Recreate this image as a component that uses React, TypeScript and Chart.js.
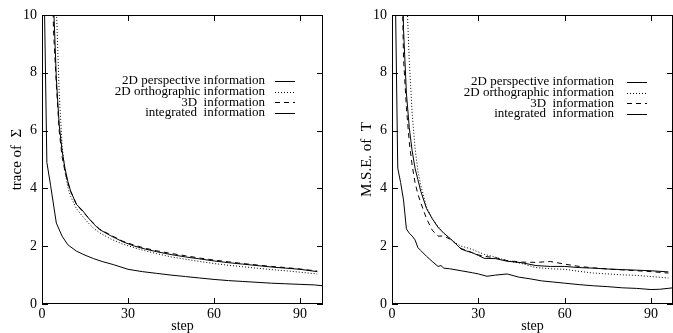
import React, { useEffect, useRef } from "react";
import { Chart, registerables } from "chart.js";

Chart.register(...registerables);

const FONT = "'Liberation Serif', 'Times New Roman', serif";

// ---- shared axes / labels ----
const yTicks = [0, 2, 4, 6, 8, 10];
const xTicks = [0, 30, 60, 90];
const legendLabels = [
  "2D perspective information",
  "2D orthographic information",
  "3D  information",
  "integrated  information",
];

// ---- left panel: trace of Sigma ----
const traceUpperSteps = [3, 4, 5, 6, 7, 8, 9, 10, 12, 14, 16, 18, 20, 24, 28, 32, 36, 40, 45, 50, 55, 60, 65, 70, 75, 80, 85, 90, 96];
const tracePerspective = [16, 10.5, 7.8, 6.2, 5.3, 4.7, 4.25, 3.9, 3.45, 3.25, 3.0, 2.77, 2.58, 2.36, 2.16, 2.01, 1.9, 1.81, 1.71, 1.63, 1.56, 1.49, 1.43, 1.38, 1.33, 1.28, 1.24, 1.2, 1.12];
const traceOrthographic = [20, 14, 10.3, 7.3, 5.5, 4.6, 4.05, 3.72, 3.3, 3.05, 2.82, 2.62, 2.47, 2.25, 2.08, 1.95, 1.84, 1.74, 1.63, 1.55, 1.47, 1.4, 1.34, 1.29, 1.24, 1.19, 1.15, 1.1, 1.04];
const trace3D = [16, 9.5, 7.6, 6.0, 5.1, 4.6, 4.2, 3.9, 3.45, 3.22, 3.0, 2.79, 2.6, 2.38, 2.18, 2.04, 1.93, 1.84, 1.75, 1.67, 1.59, 1.52, 1.46, 1.4, 1.35, 1.3, 1.26, 1.21, 1.14];
const traceIntegratedSteps = [0.6, 1.7, 3, 5, 7, 9, 12, 15, 18, 21, 25, 30, 35, 40, 45, 50, 55, 60, 65, 70, 75, 80, 85, 90, 95, 98];
const traceIntegrated = [12, 4.9, 4.1, 2.8, 2.35, 2.05, 1.83, 1.69, 1.57, 1.47, 1.36, 1.2, 1.12, 1.06, 1.0, 0.95, 0.9, 0.85, 0.81, 0.78, 0.75, 0.72, 0.7, 0.68, 0.66, 0.63];

// ---- right panel: M.S.E. of T ----
const mseUpperSteps = [3, 4, 5, 6, 7, 8, 9, 10, 12, 14, 16, 18, 20, 22, 24, 26, 28, 30, 32, 36, 40, 45, 50, 55, 60, 65, 70, 75, 80, 85, 90, 96];
const msePerspective = [16, 9.5, 7.3, 6.1, 5.3, 4.7, 4.3, 3.9, 3.3, 2.95, 2.65, 2.45, 2.28, 2.1, 1.9, 1.83, 1.77, 1.68, 1.58, 1.57, 1.48, 1.43, 1.33, 1.3, 1.3, 1.26, 1.24, 1.21, 1.19, 1.17, 1.15, 1.11];
const mseOrthographic = [30, 18, 11, 8.4, 6.6, 5.4, 4.6, 4.1, 3.35, 2.95, 2.68, 2.45, 2.28, 2.12, 2.0, 1.95, 1.88, 1.8, 1.72, 1.62, 1.5, 1.4, 1.26, 1.22, 1.2, 1.13, 1.07, 1.04, 1.01, 0.99, 0.95, 0.9];
const mse3D = [14, 8.5, 6.8, 5.6, 4.8, 4.2, 3.8, 3.5, 2.95, 2.55, 2.35, 2.35, 2.25, 2.1, 1.92, 1.85, 1.77, 1.7, 1.65, 1.6, 1.5, 1.45, 1.44, 1.47, 1.38, 1.3, 1.25, 1.21, 1.18, 1.15, 1.12, 1.07];
const mseIntegratedSteps = [1, 2, 3, 4, 5, 6, 7, 8, 9, 10, 12, 14, 16, 17, 18, 20, 24, 28, 30, 33, 36, 40, 44, 48, 52, 56, 60, 65, 70, 75, 80, 85, 90, 93, 97.6];
const mseIntegrated = [12, 4.7, 4.2, 3.6, 2.6, 2.45, 2.35, 2.22, 1.95, 1.85, 1.65, 1.47, 1.3, 1.33, 1.24, 1.22, 1.15, 1.08, 1.04, 0.96, 1.0, 1.04, 0.93, 0.87, 0.8, 0.76, 0.72, 0.67, 0.63, 0.6, 0.56, 0.54, 0.5, 0.51, 0.56];

type Series = { label: string; steps: number[]; values: number[]; dash: number[] };

const DASHES = { solid: [] as number[], dotted: [1, 2], dashed: [5, 4] };

type PanelParams = {
  series: Series[];
  xMax: number;
  yTitle: string;
  padRight: number;
  legend: { textRight: number; x1: number; x2: number; top: number; gap: number };
};

function buildConfig(p: PanelParams): any {
  const framePlugin = {
    id: "frameTicks",
    afterDraw(chart: any) {
      const { ctx, chartArea: a, scales } = chart;
      ctx.save();
      ctx.strokeStyle = "#000";
      ctx.lineWidth = 1;
      ctx.setLineDash([]);
      ctx.strokeRect(a.left + 0.5, a.top + 0.5, a.right - a.left - 1, a.bottom - a.top - 1);
      const T = 6;
      ctx.beginPath();
      for (const v of yTicks) {
        const y = Math.round(scales.y.getPixelForValue(v)) + 0.5;
        ctx.moveTo(a.left, y);
        ctx.lineTo(a.left + T, y);
        ctx.moveTo(a.right, y);
        ctx.lineTo(a.right - T, y);
      }
      for (const v of xTicks) {
        const x = Math.round(scales.x.getPixelForValue(v)) + 0.5;
        ctx.moveTo(x, a.bottom);
        ctx.lineTo(x, a.bottom - T);
        ctx.moveTo(x, a.top);
        ctx.lineTo(x, a.top + T);
      }
      ctx.stroke();
      // legend
      const L = p.legend;
      ctx.font = `13px ${FONT}`;
      ctx.fillStyle = "#000";
      ctx.textAlign = "right";
      ctx.textBaseline = "middle";
      chart.data.datasets.forEach((ds: any, i: number) => {
        const y = L.top + i * L.gap;
        ctx.fillText(ds.label, L.textRight, y);
        ctx.setLineDash(ds.borderDash || []);
        ctx.beginPath();
        ctx.moveTo(L.x1, Math.round(y) + 0.5);
        ctx.lineTo(L.x2, Math.round(y) + 0.5);
        ctx.stroke();
      });
      ctx.restore();
    },
  };

  return {
    type: "line",
    data: {
      datasets: p.series.map((s) => ({
        label: s.label,
        data: s.steps.map((x, i) => ({ x, y: s.values[i] })),
        borderColor: "#000",
        borderWidth: 1,
        borderDash: s.dash,
        pointRadius: 0,
        tension: 0,
        fill: false,
      })),
    },
    options: {
      responsive: false,
      animation: false,
      events: [],
      layout: { padding: { left: 0, top: 15, right: p.padRight, bottom: 0 } },
      plugins: { legend: { display: false }, tooltip: { enabled: false } },
      scales: {
        x: {
          type: "linear",
          min: 0,
          max: p.xMax,
          afterFit: (s: any) => {
            s.height = 29;
          },
          afterBuildTicks: (s: any) => {
            s.ticks = xTicks.map((v) => ({ value: v }));
          },
          grid: { display: false, drawTicks: false },
          border: { display: false },
          ticks: { color: "#000", font: { family: FONT, size: 14 }, padding: 2, maxRotation: 0, autoSkip: false },
          title: { display: true, text: "step", color: "#000", font: { family: FONT, size: 14, lineHeight: 1 }, padding: 0 },
        },
        y: {
          type: "linear",
          min: 0,
          max: 10,
          afterFit: (s: any) => {
            s.width = 42;
          },
          afterBuildTicks: (s: any) => {
            s.ticks = yTicks.map((v) => ({ value: v }));
          },
          grid: { display: false, drawTicks: false },
          border: { display: false },
          ticks: { color: "#000", font: { family: FONT, size: 14 }, padding: 5 },
          title: { display: true, text: p.yTitle, color: "#000", font: { family: FONT, size: 15, lineHeight: 1.2 }, padding: { top: 8, bottom: 0 } },
        },
      },
    },
    plugins: [framePlugin],
  };
}

export default function App() {
  const leftRef = useRef<HTMLCanvasElement>(null);
  const rightRef = useRef<HTMLCanvasElement>(null);

  useEffect(() => {
    const left = new Chart(
      leftRef.current as HTMLCanvasElement,
      buildConfig({
        series: [
          { label: legendLabels[0], steps: traceUpperSteps, values: tracePerspective, dash: DASHES.solid },
          { label: legendLabels[1], steps: traceUpperSteps, values: traceOrthographic, dash: DASHES.dotted },
          { label: legendLabels[2], steps: traceUpperSteps, values: trace3D, dash: DASHES.dashed },
          { label: legendLabels[3], steps: traceIntegratedSteps, values: traceIntegrated, dash: DASHES.solid },
        ],
        xMax: 98,
        yTitle: "trace of  Σ",
        padRight: 13,
        legend: { textRight: 265, x1: 275, x2: 295, top: 81, gap: 10.6 },
      })
    );
    const right = new Chart(
      rightRef.current as HTMLCanvasElement,
      buildConfig({
        series: [
          { label: legendLabels[0], steps: mseUpperSteps, values: msePerspective, dash: DASHES.solid },
          { label: legendLabels[1], steps: mseUpperSteps, values: mseOrthographic, dash: DASHES.dotted },
          { label: legendLabels[2], steps: mseUpperSteps, values: mse3D, dash: DASHES.dashed },
          { label: legendLabels[3], steps: mseIntegratedSteps, values: mseIntegrated, dash: DASHES.solid },
        ],
        xMax: 97.6,
        yTitle: "M.S.E. of  T",
        padRight: 0,
        legend: { textRight: 264, x1: 277, x2: 297, top: 82, gap: 10.6 },
      })
    );
    return () => {
      left.destroy();
      right.destroy();
    };
  }, []);

  return (
    <div style={{ position: "fixed", left: 0, top: 0, width: 673, height: 333, background: "#fff", overflow: "hidden" }}>
      <canvas ref={leftRef} width={336} height={333} style={{ position: "absolute", left: 0, top: 0 }} />
      <canvas ref={rightRef} width={323} height={333} style={{ position: "absolute", left: 350, top: 0 }} />
    </div>
  );
}
